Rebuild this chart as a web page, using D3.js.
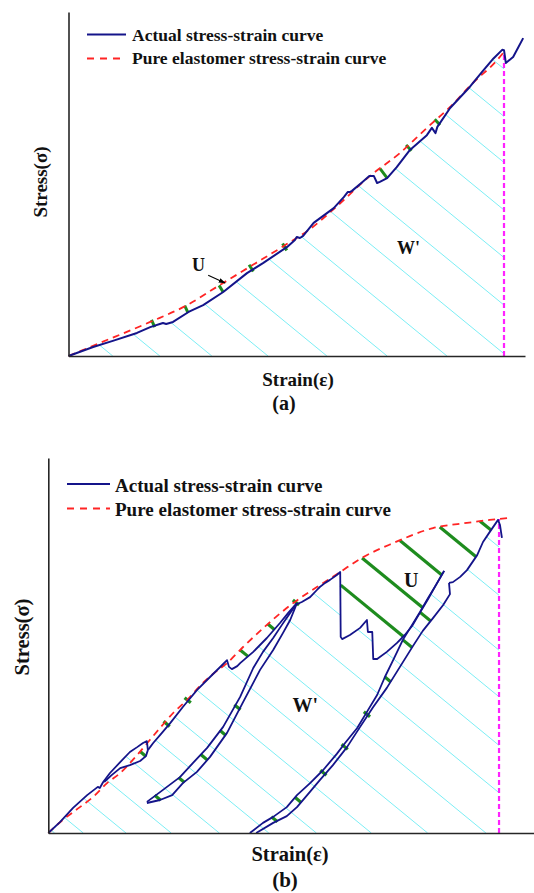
<!DOCTYPE html>
<html>
<head>
<meta charset="utf-8">
<script src="https://cdn.jsdelivr.net/npm/d3@7"></script>
<style>
  html, body { margin: 0; padding: 0; background: #fff; }
  svg { display: block; }
</style>
</head>
<body>
<svg id="chart" width="534" height="893"></svg>
<script>
// ---------------- Panel (a): monotonic loading ----------------
// [strain, stress] in relative units (0-100 of each axis)
const actualA = [[0,0],[5.4,2.6],[9.7,4.4],[15.0,6.7],[17.9,8.4],[20.0,9.3],[20.7,9.6],[21.4,9.3],[22.9,9.9],
  [26.3,12.8],[29.5,14.8],[33.9,18.6],[39.1,24.1],[42.6,27.0],[47.9,31.7],[49.6,33.7],[50.0,34.6],[50.7,34.3],
  [51.4,34.9],[53.7,38.7],[58.1,43.0],[60.3,46.2],[61.2,47.7],[61.7,47.7],[62.1,48.0],[64.4,50.6],[65.9,52.3],
  [66.9,52.3],[67.6,50.3],[68.2,50.6],[69.8,51.7],[71.9,54.9],[74.8,59.9],[78.5,64.2],[79.6,66.3],[80.4,64.8],
  [80.8,66.6],[83.6,72.1],[87.9,78.2],[90.6,82.6],[93.1,86.5],[95.0,89.0],[95.4,88.9],[95.8,85.2],[97.4,86.9],[99.6,92.4]];
const pureA = [[0,0],[6.9,3.8],[17.9,9.9],[26.0,14.8],[32.5,20.1],[40.4,26.5],[47.9,32.6],[52.9,36.9],[58.1,42.7],
  [66.0,52.3],[72.6,59.0],[78.5,66.3],[83.6,72.4],[88.6,79.4],[93.9,86.0],[95.4,88.4]];
const failureStrainA = 95.4;
const hatchA = [9.7, 20.0, 31.4, 43.7, 56.6, 69.8, 82.9, 96.0, 109.0, 121.7, 134.4, 147.1, 159.4, 172.1];
const uTicksA = [18.3, 25.5, 33.0, 39.8, 47.2, 68.2, 74.2, 80.4];

// ---------------- Panel (b): cyclic loading ----------------
const loadB1 = [[0,0],[2.4,2.9],[5.1,6.7],[8.0,10.1],[10.2,12.3],[10.6,12.0],[11.3,13.6],[12.7,16.0],[14.8,18.9],
  [16.8,21.6],[18.3,22.9],[19.5,24.0],[20.3,24.5],[20.5,22.1]];
const unloadB1 = [[11.5,13.6],[13.1,15.5],[14.8,17.3],[16.8,18.1],[18.9,19.2],[20.1,20.5],[20.5,22.1]];
const loadB2 = [[20.5,22.1],[21.6,24.0],[23.0,26.1],[25.1,29.3],[27.7,33.6],[30.6,38.1],[33.3,41.6],[35.8,44.8],
  [36.8,46.1],[37.2,44.3],[37.8,43.7],[38.9,44.5],[39.5,45.3],[42.2,48.3],[45.0,52.0],[47.7,56.0],[49.4,58.7],
  [50.8,60.8],[52.2,61.6],[53.9,62.9],[55.3,64.8],[55.9,65.6],[57.0,66.7],[58.0,67.5],[59.4,68.8],[60.1,69.6],
  [60.2,52.3],[60.5,51.7],[62.1,52.8],[64.2,54.7],[65.6,56.8],[65.8,53.6],[66.7,53.6],[66.9,46.4],[67.7,46.4],
  [69.7,48.3],[71.8,50.7],[73.4,52.8],[74.9,55.2],[76.5,58.7],[78.2,62.4],[79.8,66.1],[81.5,69.9]];
const cycleB2Up = [[20.3,8.3],[23.0,10.9],[27.1,14.9],[29.8,18.7],[32.7,22.7],[36.0,28.3],[39.5,36.3],[42.2,44.0],
  [44.2,48.3],[46.3,52.0],[48.1,55.5],[49.8,58.7],[51.2,61.3]];
const cycleB2Down = [[20.3,8.0],[23.0,8.8],[25.5,10.1],[27.7,13.3],[30.6,16.3],[33.3,20.3],[36.8,26.7],[40.1,34.9],
  [43.6,43.5],[46.3,48.8],[48.3,53.3],[49.8,56.8],[51.2,61.3]];
const cycleB3Up = [[41.5,0],[44.2,2.7],[46.3,4.3],[49.1,6.9],[51.2,10.1],[53.9,13.3],[56.6,16.8],[59.4,21.1],
  [61.1,24.0],[63.6,28.0],[65.6,32.3],[67.7,36.8],[69.3,41.6],[71.0,46.1],[73.0,51.5],[74.9,55.5],[76.5,58.9],
  [78.2,62.7],[79.8,66.1],[81.5,69.9]];
const cycleB3Down = [[42.8,0],[46.3,2.7],[49.1,4.5],[51.2,6.9],[53.3,10.1],[55.9,14.1],[58.6,18.1],[61.5,22.9],
  [64.2,28.3],[66.9,33.6],[69.7,38.7],[72.4,44.3],[75.1,49.9],[77.1,53.9],[79.2,57.3],[81.3,60.8],[82.7,63.7],[82.5,66.7]];
const loadB3 = [[82.5,66.7],[83.3,66.9],[84.8,68.3],[86.2,70.1],[88.3,74.1],[89.5,77.6],[90.9,80.3],[92.6,83.5],
  [93.0,82.1],[93.4,78.7]];
const pureB = [[0,0],[3.0,3.5],[6.5,6.9],[9.2,9.6],[12.1,13.3],[14.8,16.0],[18.3,20.8],[20.9,24.8],[23.0,28.0],
  [25.7,32.0],[28.6,35.5],[31.2,39.2],[33.9,42.4],[36.8,45.3],[40.1,49.6],[45.0,55.5],[50.4,61.3],[55.3,65.6],
  [60.1,69.6],[64.2,73.1],[71.0,77.3],[79.2,81.3],[86.2,82.7],[90.9,83.5],[94.9,84.0]];
const failureStrainB = 92.8;
const hatchB = [1.3, 7.2, 16.0, 25.3, 35.2, 45.4, 55.2, 66.5, 78.1, 90.1, 102.9, 114.8, 127.0, 138.7, 152.5, 164.6];
const uTicksB = [18.9, 24.0, 28.6, 39.5, 45.2, 50.8, 64.6, 72.4, 80.6, 88.9];
const dropTicksB = [[60.2, 66.1]];
const loopTicksB2 = [22.0, 26.9, 31.4, 35.4, 38.5];
const loopTicksB3 = [46.1, 50.8, 56.3, 60.7, 65.4, 69.3, 73.0, 76.5];

const legendLabels = ["Actual stress-strain curve", "Pure elastomer stress-strain curve"];

// ---------------- styling ----------------
const SERIF = '"Liberation Serif","Times New Roman",serif';
const BLUE = "#14148a", RED = "#ff2424", CYAN = "#7ceef5", GREEN = "#1e8c1e", MAGENTA = "#ff22ff", AXIS = "#262626";
const HATCH_DIR = (() => { const l = Math.hypot(1, 0.82); return [1 / l, 0.82 / l]; })(); // down-right
const MIN_TICK = 8; // shortest drawn U marker, px

const svg = d3.select("#chart");

function interp(pts, s) {
  for (let i = 0; i < pts.length - 1; i++) {
    const [x0, y0] = pts[i], [x1, y1] = pts[i + 1];
    if ((s - x0) * (s - x1) <= 0 && x1 !== x0) return y0 + (y1 - y0) * (s - x0) / (x1 - x0);
  }
  return null;
}

function toPx(pts, x, y) { return pts.map(d => [x(d[0]), y(d[1])]); }

function segmentsOf(branches) {
  const segs = [];
  branches.forEach((b, id) => {
    for (let i = 0; i < b.length - 1; i++) segs.push({ a: b[i], b: b[i + 1], id });
  });
  return segs;
}

function rayHit(p, d, segs, tMin, tMax) {
  let best = null;
  for (const s of segs) {
    const ex = s.b[0] - s.a[0], ey = s.b[1] - s.a[1];
    const den = d[0] * ey - d[1] * ex;
    if (Math.abs(den) < 1e-9) continue;
    const wx = s.a[0] - p[0], wy = s.a[1] - p[1];
    const t = (wx * ey - wy * ex) / den;
    const u = (wx * d[1] - wy * d[0]) / den;
    if (u >= 0 && u <= 1 && t > tMin && t < tMax && (best === null || t < best)) best = t;
  }
  return best;
}

// marker from p along d over length t, stretched symmetrically to a minimum length
function tickSeg(p, d, t) {
  const pad = Math.max(0, (MIN_TICK - t) / 2);
  return [[p[0] - d[0] * pad, p[1] - d[1] * pad], [p[0] + d[0] * (t + pad), p[1] + d[1] * (t + pad)]];
}

function drawPanel(cfg) {
  const { x, y, g, id } = cfg;
  const line = d3.line().x(d => x(d[0])).y(d => y(d[1]));
  const smooth = d3.line().x(d => x(d[0])).y(d => y(d[1])).curve(d3.curveMonotoneX);
  const pxBranches = cfg.actual.map(b => toPx(b, x, y));
  const segs = segmentsOf(pxBranches);
  const base = y(0);

  // clip: area under the actual curve(s), left of the failure strain
  const defs = g.append("defs");
  let env = "";
  pxBranches.forEach(b => {
    for (let i = 0; i < b.length - 1; i++) {
      let p = b[i], q = b[i + 1];
      if (Math.abs(q[0] - p[0]) < 0.01) continue;
      if (q[0] < p[0]) [p, q] = [q, p];
      env += `M${p[0]},${p[1]}L${q[0]},${q[1]}L${q[0]},${base}L${p[0]},${base}Z`;
    }
  });
  defs.append("clipPath").attr("id", id + "-env").append("path").attr("d", env).attr("clip-rule", "nonzero");
  defs.append("clipPath").attr("id", id + "-lim").append("rect")
    .attr("x", x(0)).attr("y", 0).attr("width", x(cfg.failure) - x(0)).attr("height", base);

  // W' hatching
  const hatch = g.append("g").attr("clip-path", `url(#${id}-lim)`)
    .append("g").attr("clip-path", `url(#${id}-env)`);
  hatch.selectAll("line").data(cfg.hatch).join("line")
    .attr("x1", d => x(d)).attr("y1", base)
    .attr("x2", d => x(d) - HATCH_DIR[0] * 1000).attr("y2", base - HATCH_DIR[1] * 1000)
    .attr("stroke", CYAN).attr("stroke-width", 1);

  // U markers (green)
  const ticks = [];
  cfg.redTicks.forEach(s => {
    const p = [x(s), y(interp(cfg.pure, s))];
    let d = HATCH_DIR;
    if (cfg.normalTicks) {
      const pa = [x(s - 0.6), y(interp(cfg.pure, s - 0.6))], pb = [x(s + 0.6), y(interp(cfg.pure, s + 0.6))];
      const tx = pb[0] - pa[0], ty = pb[1] - pa[1], l = Math.hypot(tx, ty);
      d = [-ty / l, tx / l];
    }
    const t = rayHit(p, d, segs, 0.3, cfg.maxTick);
    if (t !== null) ticks.push(tickSeg(p, d, t));
  });
  (cfg.pointTicks || []).forEach(pt => {
    const p = [x(pt[0]), y(pt[1])];
    const t = rayHit(p, HATCH_DIR, segs, 1.5, cfg.maxTick);
    if (t !== null) ticks.push(tickSeg(p, HATCH_DIR, t));
  });
  (cfg.loopTicks || []).forEach(([from, to, list]) => {
    const target = segmentsOf([toPx(to, x, y)]);
    list.forEach(s => {
      const p = [x(s), y(interp(from, s))];
      const t = rayHit(p, HATCH_DIR, target, 0.3, 40);
      if (t !== null) ticks.push(tickSeg(p, HATCH_DIR, t));
    });
  });
  g.append("g").selectAll("line").data(ticks).join("line")
    .attr("x1", d => d[0][0]).attr("y1", d => d[0][1])
    .attr("x2", d => d[1][0]).attr("y2", d => d[1][1])
    .attr("stroke", GREEN).attr("stroke-width", cfg.tickWidth);

  // failure strain marker
  g.append("line")
    .attr("x1", x(cfg.failure)).attr("x2", x(cfg.failure))
    .attr("y1", base).attr("y2", y(interp(cfg.pure, cfg.failure)))
    .attr("stroke", MAGENTA).attr("stroke-width", 2.2).attr("stroke-dasharray", "5,3");

  // pure elastomer curve
  g.append("path").attr("d", smooth(cfg.pure)).attr("fill", "none")
    .attr("stroke", RED).attr("stroke-width", 1.8).attr("stroke-dasharray", "7,5");

  // actual curve(s)
  g.append("g").selectAll("path").data(cfg.actual).join("path")
    .attr("d", line).attr("fill", "none").attr("stroke", BLUE)
    .attr("stroke-width", cfg.lineWidth).attr("stroke-linejoin", "round");

  // axes (no ticks)
  const ax = g.append("g").attr("transform", `translate(0,${base})`)
    .call(d3.axisBottom(x).tickValues([]).tickSizeOuter(0));
  const ay = g.append("g").attr("transform", `translate(${x(0)},0)`)
    .call(d3.axisLeft(y).tickValues([]).tickSizeOuter(0));
  [ax, ay].forEach(a => a.select(".domain").attr("stroke", AXIS).attr("stroke-width", 1.6));

  // legend
  const L = cfg.legend;
  g.append("line").attr("x1", L.x0).attr("x2", L.x1).attr("y1", L.y1).attr("y2", L.y1)
    .attr("stroke", BLUE).attr("stroke-width", 1.8);
  g.append("line").attr("x1", L.x0).attr("x2", L.x1).attr("y1", L.y2).attr("y2", L.y2)
    .attr("stroke", RED).attr("stroke-width", 1.8).attr("stroke-dasharray", "7,6");
  g.selectAll("text.leg").data(legendLabels).join("text").attr("class", "leg")
    .attr("x", L.tx).attr("y", (d, i) => i ? L.b2 : L.b1)
    .attr("font-size", L.fs).text(d => d);

  // axis titles and labels
  g.append("text").attr("transform", `translate(${cfg.yTitle[0]},${cfg.yTitle[1]}) rotate(-90)`)
    .attr("text-anchor", "middle").attr("dominant-baseline", "central")
    .attr("font-size", cfg.titleFs).text("Stress(σ)");
  g.append("text").attr("x", cfg.xTitle[0]).attr("y", cfg.xTitle[1]).attr("text-anchor", "middle")
    .attr("font-size", cfg.titleFs).text("Strain(ε)");
  g.append("text").attr("x", cfg.tag[0]).attr("y", cfg.tag[1]).attr("text-anchor", "middle")
    .attr("font-size", cfg.tagFs).text(cfg.tagText);
  g.append("text").attr("x", x(cfg.uLabel[0])).attr("y", y(cfg.uLabel[1])).attr("text-anchor", "middle")
    .attr("font-size", cfg.labelFs).text("U");
  g.append("text").attr("x", x(cfg.wLabel[0])).attr("y", y(cfg.wLabel[1])).attr("text-anchor", "middle")
    .attr("font-size", cfg.labelFs).text("W'");

  if (cfg.arrow) {
    const [s0, s1] = cfg.arrow;
    g.append("line").attr("x1", x(s0[0])).attr("y1", y(s0[1])).attr("x2", x(s1[0])).attr("y2", y(s1[1]))
      .attr("stroke", "#000").attr("stroke-width", 1.1).attr("marker-end", "url(#arrowhead)");
  }
}

const defs = svg.append("defs");
defs.append("marker").attr("id", "arrowhead").attr("viewBox", "0 0 10 10").attr("refX", 9).attr("refY", 5)
  .attr("markerWidth", 7).attr("markerHeight", 7).attr("orient", "auto").attr("markerUnits", "userSpaceOnUse")
  .append("path").attr("d", "M0,1.5L10,5L0,8.5Z").attr("fill", "#000");

const root = svg.append("g").attr("font-family", SERIF).attr("font-weight", "bold").attr("fill", "#111");

drawPanel({
  id: "pa", g: root.append("g"),
  x: d3.scaleLinear([0, 100], [68.5, 525]),
  y: d3.scaleLinear([0, 100], [356, 12]),
  actual: [actualA], pure: pureA, failure: failureStrainA,
  hatch: hatchA, redTicks: uTicksA, normalTicks: true, maxTick: 20, tickWidth: 3,
  lineWidth: 2,
  legend: { x0: 87, x1: 126, y1: 34.5, y2: 58.5, tx: 132, b1: 40.8, b2: 64, fs: 17.5 },
  yTitle: [40, 182], xTitle: [298, 386], tag: [284, 410], tagText: "(a)",
  titleFs: 19, tagFs: 20, labelFs: 18,
  uLabel: [28.5, 24.7], wLabel: [74.5, 29.7],
  arrow: [[30.6, 23.5], [34.3, 21.2]]
});

drawPanel({
  id: "pb", g: root.append("g"),
  x: d3.scaleLinear([0, 100], [48.3, 534]),
  y: d3.scaleLinear([0, 100], [833, 458]),
  actual: [loadB1, unloadB1, loadB2, cycleB2Up, cycleB2Down, cycleB3Up, cycleB3Down, loadB3],
  pure: pureB, failure: failureStrainB,
  hatch: hatchB, redTicks: uTicksB, normalTicks: false, maxTick: 120, tickWidth: 3.2,
  pointTicks: dropTicksB,
  loopTicks: [[cycleB2Up, cycleB2Down, loopTicksB2], [cycleB3Up, cycleB3Down, loopTicksB3]],
  lineWidth: 1.8,
  legend: { x0: 67, x1: 110, y1: 484, y2: 508.5, tx: 115, b1: 491.5, b2: 515.5, fs: 19 },
  yTitle: [22, 637], xTitle: [290, 861], tag: [285, 887], tagText: "(b)",
  titleFs: 20.5, tagFs: 21, labelFs: 20,
  uLabel: [74.7, 65.6], wLabel: [52.9, 32.3]
});
</script>
</body>
</html>
